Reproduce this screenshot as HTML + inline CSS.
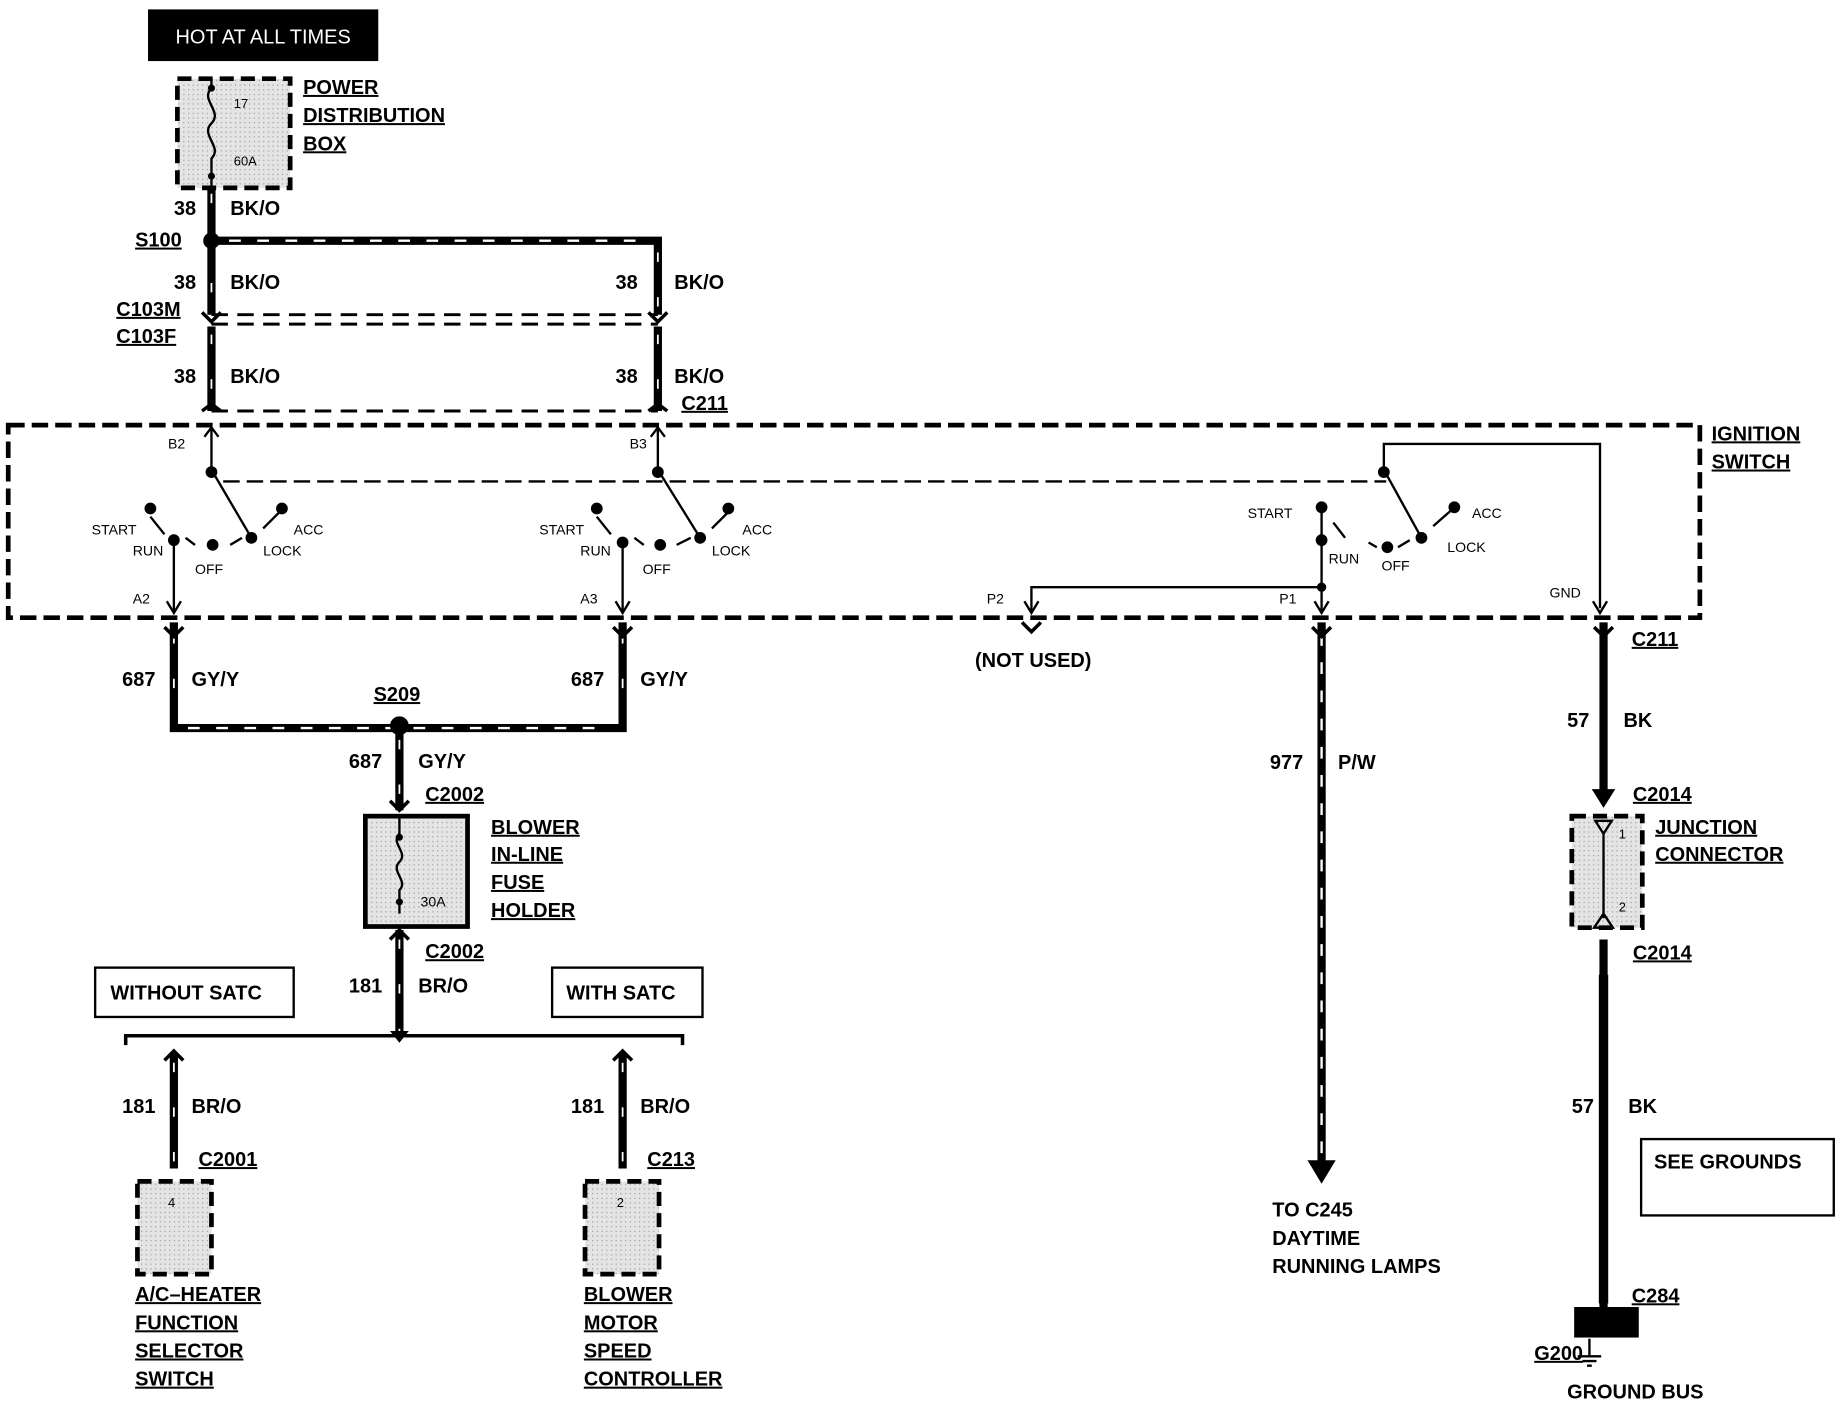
<!DOCTYPE html>
<html><head><meta charset="utf-8"><style>
html,body{margin:0;padding:0;background:#fff;}
svg{display:block;}
text{font-family:"Liberation Sans",sans-serif;font-weight:bold;fill:#000;}
</style></head><body>
<svg width="1842" height="1408" viewBox="0 0 1568 1199" preserveAspectRatio="none" xmlns="http://www.w3.org/2000/svg">
<defs>
<pattern id="dots" width="4" height="4" patternUnits="userSpaceOnUse"><rect width="4" height="4" fill="#e4e4e4"/><rect width="1" height="1" fill="#999"/></pattern>
</defs>
<!-- HOT AT ALL TIMES -->
<rect x="126" y="8" width="196" height="44" fill="#000"/>
<text x="224" y="37" font-size="17" text-anchor="middle" style="fill:#fff;font-weight:normal">HOT AT ALL TIMES</text>
<!-- power distribution box -->
<rect x="151" y="67" width="96" height="93" fill="url(#dots)" stroke="#000" stroke-width="4" stroke-dasharray="12,6"/>
<path d="M180 67 v8 c-10 10 10 20 0 30 c-10 10 10 20 0 30 v25" fill="none" stroke="#000" stroke-width="2"/>
<circle cx="180" cy="75" r="3"/><circle cx="180" cy="150" r="3"/>
<text x="199" y="92" font-size="11" style="font-weight:normal">17</text>
<text x="199" y="141" font-size="11" style="font-weight:normal">60A</text>
<g font-size="17" text-decoration="underline">
<text x="258" y="80">POWER</text><text x="258" y="104">DISTRIBUTION</text><text x="258" y="128">BOX</text>
</g>
<g stroke="#000" stroke-width="7" fill="none">
<path d="M180 160 V268"/><path d="M180 205 H560 V268"/>
<path d="M180 278 V350"/><path d="M560 278 V350"/>
<path d="M148 530 V620 H530 V530"/><path d="M340 620 V690"/><path d="M340 792 V880"/>
<path d="M148 897 V995"/><path d="M530 897 V995"/>
<path d="M1125 530 V990"/><path d="M1365 530 V680"/><path d="M1365 800 V1115"/>
</g>
<g stroke="#fff" stroke-width="2" stroke-dasharray="10,14">
<path d="M195 205 H550"/><path d="M160 620 H520"/><path d="M1125 540 V990"/>
</g>
<g stroke="#fff" stroke-width="1.5" stroke-dasharray="8,30">
<path d="M180 165 V268"/><path d="M560 215 V268"/><path d="M180 285 V350"/><path d="M560 285 V350"/><path d="M148 540 V615"/><path d="M530 540 V615"/><path d="M340 630 V690"/><path d="M340 800 V880"/><path d="M148 905 V990"/><path d="M530 905 V990"/>
</g>
<circle cx="180" cy="205" r="7"/><circle cx="340" cy="618" r="8"/>
<!-- C103 dashed -->
<g stroke="#000" stroke-width="2.5" stroke-dasharray="14,8" fill="none">
<path d="M180 268 H560"/><path d="M180 276 H560"/><path d="M180 350 H560"/>
</g>
<g font-size="17">
<text x="148" y="183">38</text><text x="196" y="183">BK/O</text>
<text x="148" y="246">38</text><text x="196" y="246">BK/O</text>
<text x="524" y="246">38</text><text x="574" y="246">BK/O</text>
<text x="148" y="326">38</text><text x="196" y="326">BK/O</text>
<text x="524" y="326">38</text><text x="574" y="326">BK/O</text>
<text x="104" y="584">687</text><text x="163" y="584">GY/Y</text>
<text x="486" y="584">687</text><text x="545" y="584">GY/Y</text>
<text x="297" y="654">687</text><text x="356" y="654">GY/Y</text>
<text x="297" y="845">181</text><text x="356" y="845">BR/O</text>
<text x="104" y="948">181</text><text x="163" y="948">BR/O</text>
<text x="486" y="948">181</text><text x="545" y="948">BR/O</text>
<text x="1081" y="655">977</text><text x="1139" y="655">P/W</text>
<text x="1334" y="619">57</text><text x="1382" y="619">BK</text>
<text x="1338" y="948">57</text><text x="1386" y="948">BK</text>
<text x="830" y="568">(NOT USED)</text>
</g>
<g font-size="17" text-decoration="underline">
<text x="115" y="210">S100</text><text x="99" y="269">C103M</text><text x="99" y="292">C103F</text>
<text x="580" y="349">C211</text><text x="1457" y="375">IGNITION</text><text x="1457" y="399">SWITCH</text>
<text x="1389" y="550">C211</text><text x="318" y="597">S209</text>
<text x="362" y="682">C2002</text><text x="362" y="816">C2002</text>
<text x="418" y="710">BLOWER</text><text x="418" y="733">IN-LINE</text><text x="418" y="757">FUSE</text><text x="418" y="781">HOLDER</text>
<text x="169" y="993">C2001</text><text x="551" y="993">C213</text>
<text x="115" y="1108">A/C–HEATER</text><text x="115" y="1132">FUNCTION</text><text x="115" y="1156">SELECTOR</text><text x="115" y="1180">SWITCH</text>
<text x="497" y="1108">BLOWER</text><text x="497" y="1132">MOTOR</text><text x="497" y="1156">SPEED</text><text x="497" y="1180">CONTROLLER</text>
<text x="1390" y="682">C2014</text><text x="1409" y="710">JUNCTION</text><text x="1409" y="733">CONNECTOR</text>
<text x="1390" y="817">C2014</text><text x="1389" y="1109">C284</text><text x="1306" y="1158">G200</text>
</g>
<text x="1334" y="1191" font-size="17">GROUND BUS</text>
<text x="1083" y="1036" font-size="17">TO C245</text><text x="1083" y="1060" font-size="17">DAYTIME</text><text x="1083" y="1084" font-size="17">RUNNING LAMPS</text>
<!-- ignition switch box -->
<rect x="7" y="362" width="1440" height="164" fill="none" stroke="#000" stroke-width="4" stroke-dasharray="14,6"/>
<g stroke="#000" stroke-width="2" fill="none">
<path d="M180 400 V366 M174 372 L180 364 L186 372"/>
<path d="M560 400 V366 M554 372 L560 364 L566 372"/>
<path d="M180 400 L214 458"/><path d="M560 400 L596 458"/>
<path d="M190 410 H1180" stroke-dasharray="14,6"/>
<path d="M1178 400 V378 H1362 V518"/><path d="M1178 400 L1210 458"/>
<path d="M148 458 V520 M142 512 L148 522 L154 512"/>
<path d="M530 462 V520 M524 512 L530 522 L536 512"/>
<path d="M1125 432 V520 M1119 512 L1125 522 L1131 512"/>
<path d="M1356 512 L1362 522 L1368 512"/>
<path d="M1125 500 H878 V520 M872 512 L878 522 L884 512"/>
<path d="M128 440 L140 455 M158 458 L166 464 M196 464 L206 458 M224 450 L238 436"/>
<path d="M508 440 L520 455 M540 458 L548 464 M576 464 L588 458 M606 450 L620 436"/>
<path d="M1135 445 L1145 458 M1165 462 L1172 466 M1190 466 L1200 460 M1220 448 L1236 434"/>
</g>
<g>
<circle cx="180" cy="402" r="5"/><circle cx="560" cy="402" r="5"/><circle cx="1178" cy="402" r="5"/>
<circle cx="128" cy="433" r="5"/><circle cx="240" cy="433" r="5"/><circle cx="148" cy="460" r="5"/><circle cx="181" cy="464" r="5"/><circle cx="214" cy="458" r="5"/>
<circle cx="508" cy="433" r="5"/><circle cx="620" cy="433" r="5"/><circle cx="530" cy="462" r="5"/><circle cx="562" cy="464" r="5"/><circle cx="596" cy="458" r="5"/>
<circle cx="1125" cy="432" r="5"/><circle cx="1238" cy="432" r="5"/><circle cx="1125" cy="460" r="5"/><circle cx="1181" cy="466" r="5"/><circle cx="1210" cy="458" r="5"/><circle cx="1125" cy="500" r="4"/>
</g>
<g font-size="12" style="font-weight:normal">
<text x="143" y="382" style="font-weight:normal">B2</text><text x="536" y="382" style="font-weight:normal">B3</text>
<text x="78" y="455" style="font-weight:normal">START</text><text x="113" y="473" style="font-weight:normal">RUN</text><text x="166" y="489" style="font-weight:normal">OFF</text><text x="224" y="473" style="font-weight:normal">LOCK</text><text x="250" y="455" style="font-weight:normal">ACC</text>
<text x="459" y="455" style="font-weight:normal">START</text><text x="494" y="473" style="font-weight:normal">RUN</text><text x="547" y="489" style="font-weight:normal">OFF</text><text x="606" y="473" style="font-weight:normal">LOCK</text><text x="632" y="455" style="font-weight:normal">ACC</text>
<text x="1062" y="441" style="font-weight:normal">START</text><text x="1131" y="480" style="font-weight:normal">RUN</text><text x="1176" y="486" style="font-weight:normal">OFF</text><text x="1232" y="470" style="font-weight:normal">LOCK</text><text x="1253" y="441" style="font-weight:normal">ACC</text>
<text x="113" y="514" style="font-weight:normal">A2</text><text x="494" y="514" style="font-weight:normal">A3</text><text x="840" y="514" style="font-weight:normal">P2</text><text x="1089" y="514" style="font-weight:normal">P1</text><text x="1319" y="509" style="font-weight:normal">GND</text>
</g>
<!-- connector tick marks -->
<g stroke="#000" stroke-width="3" fill="none">
<path d="M140 534 L148 542 L156 534 M522 534 L530 542 L538 534 M870 530 L878 538 L886 530 M1117 534 L1125 542 L1133 534 M1357 534 L1365 542 L1373 534"/>
<path d="M332 682 L340 690 L348 682 M332 800 L340 792 L348 800 M140 903 L148 895 L156 903 M522 903 L530 895 L538 903"/>
<path d="M172 266 L180 274 L188 266 M552 266 L560 274 L568 266 M172 350 L180 344 L188 350 M552 350 L560 344 L568 350"/>
<path d="M107 890 V882 H581 V890"/>
</g>
<path d="M332 878 L340 888 L348 878Z"/>
<!-- fuse holder -->
<rect x="311" y="695" width="87" height="94" fill="url(#dots)" stroke="#000" stroke-width="4"/>
<path d="M340 695 v15 c-8 8 8 16 0 24 c-8 8 8 16 0 24 v20" fill="none" stroke="#000" stroke-width="2"/>
<circle cx="340" cy="713" r="3"/><circle cx="340" cy="768" r="3"/>
<text x="358" y="772" font-size="12" style="font-weight:normal">30A</text>
<!-- satc boxes -->
<rect x="81" y="824" width="169" height="42" fill="none" stroke="#000" stroke-width="2"/>
<text x="94" y="851" font-size="17">WITHOUT SATC</text>
<rect x="470" y="824" width="128" height="42" fill="none" stroke="#000" stroke-width="2"/>
<text x="482" y="851" font-size="17">WITH SATC</text>
<rect x="117" y="1006" width="63" height="79" fill="url(#dots)" stroke="#000" stroke-width="4" stroke-dasharray="12,6"/>
<text x="143" y="1028" font-size="11" style="font-weight:normal">4</text>
<rect x="498" y="1006" width="63" height="79" fill="url(#dots)" stroke="#000" stroke-width="4" stroke-dasharray="12,6"/>
<text x="525" y="1028" font-size="11" style="font-weight:normal">2</text>
<!-- 977 arrow -->
<path d="M1113 988 L1125 1008 L1137 988Z"/>
<!-- junction -->
<path d="M1355 672 L1365 688 L1375 672Z"/>
<rect x="1338" y="695" width="60" height="95" fill="url(#dots)" stroke="#000" stroke-width="4" stroke-dasharray="12,6"/>
<path d="M1358 699 L1365 710 L1372 699Z M1365 710 V782 M1357 790 L1365 778 L1373 790Z" stroke="#000" stroke-width="2" fill="none"/>
<text x="1378" y="714" font-size="11" style="font-weight:normal">1</text><text x="1378" y="776" font-size="11" style="font-weight:normal">2</text>
<rect x="1361" y="830" width="8" height="280" fill="#000"/>
<rect x="1340" y="1113" width="55" height="26" fill="#000"/>
<path d="M1353 1140 V1155 M1343 1155 H1363 M1347 1159 H1359 M1351 1163 H1355" stroke="#000" stroke-width="2"/>
<rect x="1397" y="970" width="164" height="65" fill="none" stroke="#000" stroke-width="2"/>
<text x="1408" y="995" font-size="17">SEE GROUNDS</text>
</svg>
</body></html>
